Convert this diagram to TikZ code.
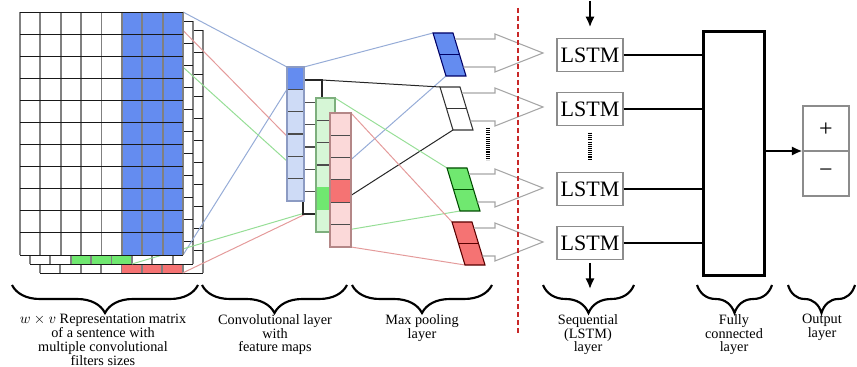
\documentclass[tikz,border=0pt]{standalone}
\usepackage{fontspec}
\setmainfont{Liberation Serif}
\usetikzlibrary{decorations.pathreplacing,arrows.meta,calc}

\definecolor{mblue}{RGB}{100,140,240}
\definecolor{lblue}{RGB}{206,219,246}
\definecolor{mgreen}{RGB}{112,232,112}
\definecolor{lgreen}{RGB}{214,246,214}
\definecolor{mred}{RGB}{245,115,115}
\definecolor{lred}{RGB}{251,217,217}
\definecolor{wblue}{RGB}{150,172,215}
\definecolor{wgreen}{RGB}{150,222,150}
\definecolor{wred}{RGB}{228,155,155}
\definecolor{bblue}{RGB}{140,155,195}
\definecolor{bgreen}{RGB}{125,175,125}
\definecolor{bred}{RGB}{180,135,135}
\definecolor{cutred}{RGB}{200,40,40}

% 8 x 11 grid of one channel of the embedding matrix
\newcommand\embgrid[2]{%
  \foreach \i in {0,...,8} \draw[gridv] (#1+\i*20.375,#2) -- ++(0,243);
  \foreach \j in {0,...,11} \draw[gridh] (#1,#2+\j*22.09) -- ++(163,0);
}
% feature map column: #1 x0, #2 y0, #3 width, #4 fill, #5 border
\newcommand\featcol[5]{%
  \fill[#4] (#1,#2) rectangle ++(#3,134);
  \foreach \k in {1,...,5} \draw[black!70,line width=0.8pt] (#1,#2+\k*22.33) -- ++(#3,0);
}
% pooled value: #1 name, #2 x0, #3 y0, #4 fill, #5 border
\newcommand\poolcell[5]{%
  \coordinate (#1-tl) at (#2,#3);
  \coordinate (#1-tr) at (#2+20,#3);
  \coordinate (#1-br) at (#2+33,#3+43);
  \coordinate (#1-bl) at (#2+13,#3+43);
  \filldraw[fill=#4,draw=#5,line width=0.8pt] (#1-tl) -- (#1-tr) -- (#1-br) -- (#1-bl) -- cycle;
  \draw[#5,line width=0.8pt] ($(#1-tl)!0.5!(#1-bl)$) -- ($(#1-tr)!0.5!(#1-br)$);
  \draw[fatarrow] (#2+21.8,#3+6) -- (495,#3+6) -- (495,#3+1) -- (543,#3+20)
        -- (495,#3+39) -- (495,#3+34) -- (#2+30.3,#3+34);
}

\begin{document}
\begin{tikzpicture}[x=0.75pt,y=-0.75pt,
  gridv/.style={draw=black!50,line width=1.4pt},
  gridh/.style={draw=black!90,line width=0.7pt},
  wire/.style={line width=0.75pt},
  fatarrow/.style={draw=black!35,line width=0.8pt},
  lstmbox/.style={draw=black!45,line width=0.9pt,minimum width=49.5pt,minimum height=24.75pt,
    inner sep=0pt,font=\fontsize{16.5}{18}\selectfont},
  link/.style={line width=1.5pt},
  tip/.style={-{Latex[length=8pt,width=7pt]}},
  layerbrace/.style={decorate,decoration={brace,mirror,amplitude=21pt},line width=1.6pt},
  caption/.style={align=center,anchor=north,inner sep=0pt,font=\fontsize{10.7}{10.4}\selectfont},
]
\useasboundingbox (0,0) rectangle (857,367);

% ---- key corners -------------------------------------------------------
% filter windows in the three channels
\coordinate (fb-tr) at (183,12);    \coordinate (fb-br) at (183,255);
\coordinate (fg-tr) at (131.9,21);  \coordinate (fg-br) at (131.9,264);
\coordinate (fr-tr) at (182.6,30);  \coordinate (fr-br) at (182.6,273);
% convolved cells in the feature maps
\coordinate (mb-dtl) at (287,67);   \coordinate (mb-dbl) at (287,89.3);
\coordinate (mg-dtl) at (316,187.3);\coordinate (mg-dbl) at (316,209.7);
\coordinate (mr-dtl) at (330,180);  \coordinate (mr-dbl) at (330,202.3);
% right corners of the feature maps
\coordinate (mb-tr) at (304,67);  \coordinate (mb-br) at (304,201);
\coordinate (mk-tr) at (322,80);  \coordinate (mk-br) at (322,214);
\coordinate (mg-tr) at (335,98);  \coordinate (mg-br) at (335,232);
\coordinate (mr-tr) at (351,113); \coordinate (mr-br) at (351,247);
% left corners of the pooled values
\coordinate (pb-tl) at (433,33);  \coordinate (pb-bl) at (446,76);
\coordinate (pk-tl) at (440,87);  \coordinate (pk-bl) at (453,130);
\coordinate (pg-tl) at (447,168); \coordinate (pg-bl) at (460,211);
\coordinate (pr-tl) at (452,222); \coordinate (pr-bl) at (465,265);

% ---- embedding matrix, back channels ----------------------------------
\fill[white] (40,30) rectangle ++(163,243);
\fill[mred] (40+4*20.375,30) rectangle ++(61.125,243);
\embgrid{40}{30}
\fill[white] (30,21) rectangle ++(163,243);
\fill[mgreen] (30+2*20.375,21) rectangle ++(61.125,243);
\embgrid{30}{21}

% filters to convolved cells
\draw[wire,wblue] (fb-tr) -- (mb-dtl);
\draw[wire,wblue] (fb-br) -- (mb-dbl);
\draw[wire,wgreen] (fg-tr) -- (mg-dtl);
\draw[wire,wgreen] (fg-br) -- (mg-dbl);
\draw[wire,wred] (fr-tr) -- (mr-dtl);
\draw[wire,wred] (fr-br) -- (mr-dbl);

% front channel
\fill[white] (20,12) rectangle ++(163,243);
\fill[mblue] (20+5*20.375,12) rectangle ++(61.125,243);
\embgrid{20}{12}

% ---- feature maps to pooled values -------------------------------------
\draw[wire,wblue] (mb-tr) -- (pb-tl);
\draw[wire,wblue] (mb-br) -- (pb-bl);
\draw[wire,black!85] (mk-tr) -- (pk-tl);
\draw[wire,black!85] (mk-br) -- (pk-bl);
\draw[wire,wgreen] (mg-tr) -- (pg-tl);
\draw[wire,wgreen] (mg-br) -- (pg-bl);
\draw[wire,wred] (mr-tr) -- (pr-tl);
\draw[wire,wred] (mr-br) -- (pr-bl);

% ---- feature maps ------------------------------------------------------
\featcol{303}{80}{19}{white}{black}
\draw[black!85,line width=0.8pt] (303,80) rectangle (mk-br);
\featcol{287}{67}{17}{lblue}{bblue}
\fill[mblue] (mb-dtl) rectangle ++(17,22.33);
\draw[bblue,line width=0.8pt] (287,67) rectangle (mb-br);
\featcol{316}{98}{19}{lgreen}{bgreen}
\fill[mgreen] (mg-dtl) rectangle ++(19,22.33);
\draw[bgreen,line width=0.8pt] (316,98) rectangle (mg-br);
\featcol{330}{113}{21}{lred}{bred}
\fill[mred] (mr-dtl) rectangle ++(21,22.33);
\draw[bred,line width=0.8pt] (330,113) rectangle (mr-br);

% ---- max pooling -------------------------------------------------------
\poolcell{pb}{433}{33}{mblue}{blue!40!black}
\poolcell{pk}{440}{87}{white}{black!80}
\poolcell{pg}{447}{168}{mgreen}{green!30!black}
\poolcell{pr}{452}{222}{mred}{red!35!black}
\coordinate (pdots-a) at (488,128); \coordinate (pdots-b) at (488,160);
\draw[line width=2.4pt,dash pattern=on 0.8pt off 0.8pt] (pdots-a) -- (pdots-b);

% split between the two halves of the model
\coordinate (cut-top) at (518,8); \coordinate (cut-bot) at (518,335);
\draw[cutred,line width=1.6pt,dash pattern=on 4pt off 2pt] (cut-top) -- (cut-bot);

% ---- LSTM layer ---------------------------------------------------------
\node[lstmbox] (l1) at (590,55)  {LSTM};
\node[lstmbox] (l2) at (590,109) {LSTM};
\node[lstmbox] (l3) at (590,189) {LSTM};
\node[lstmbox] (l4) at (590,243) {LSTM};
\coordinate (ldots-a) at (590,133); \coordinate (ldots-b) at (590,160);
\draw[line width=2.4pt,dash pattern=on 0.8pt off 0.8pt] (ldots-a) -- (ldots-b);
\coordinate (intop) at (590,1);
\coordinate (outbot) at (590,289);
\draw[link,tip,shorten >=8pt] (intop) -- (l1.north);
\draw[link,tip,shorten <=2pt] (l4.south) -- (outbot);

% ---- fully connected and output layers -------------------------------
\node[draw,line width=2.25pt,minimum width=45.75pt,minimum height=182.25pt,inner sep=0pt] (fc) at (733.5,153.5) {};
\foreach \n in {l1,l2,l3,l4} \draw[link] (\n.east) -- (\n.east -| fc.west);
\node[draw=black!45,line width=0.8pt,minimum width=34.5pt,minimum height=67.5pt,inner sep=0pt] (out) at (826,151) {};
\draw[black!45,line width=0.8pt] (out.west) -- (out.east);
\node[font=\fontsize{18}{20}\selectfont,inner sep=0pt] (plus) at (826,130) {+};
\node[font=\fontsize{18}{20}\selectfont,inner sep=0pt] (minus) at (826,173) {−};
\draw[link,tip] (fc.east |- out.west) -- (out.west);

% ---- braces and captions ----------------------------------------------
\coordinate (b1a) at (12,285);  \coordinate (b1b) at (198,285);
\coordinate (b2a) at (202,285); \coordinate (b2b) at (347,285);
\coordinate (b3a) at (352,285); \coordinate (b3b) at (492,285);
\coordinate (b4a) at (543,285); \coordinate (b4b) at (634,285);
\coordinate (b5a) at (697,285); \coordinate (b5b) at (772,285);
\coordinate (b6a) at (788,285); \coordinate (b6b) at (855,285);
\foreach \b in {1,...,6} \draw[layerbrace] (b\b a) -- (b\b b);

\node[caption] (cap1) at (103,314) {$w\times v$ Representation matrix\\of a sentence with\\multiple convolutional\\filters sizes};
\node[caption] (cap2) at (275,314) {Convolutional layer\\with\\feature maps};
\node[caption] (cap3) at (422,314) {Max pooling\\layer};
\node[caption] (cap4) at (588,314) {Sequential\\(LSTM)\\layer};
\node[caption] (cap5) at (734,314) {Fully\\connected\\layer};
\node[caption] (cap6) at (822,314) {Output\\layer};
\end{tikzpicture}
\end{document}
